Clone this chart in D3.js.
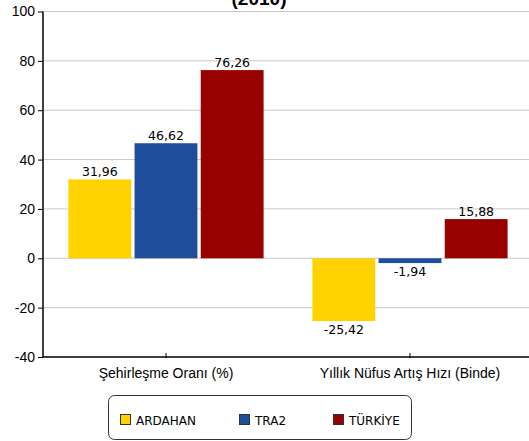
<!DOCTYPE html>
<html>
<head>
<meta charset="utf-8">
<script src="https://cdn.jsdelivr.net/npm/d3@7"></script>
<style>
  body { margin: 0; background: #fff; }
  svg { display: block; }
</style>
</head>
<body>
<div id="container"></div>
<script>
// veri
const categories = ['Şehirleşme Oranı (%)', 'Yıllık Nüfus Artış Hızı (Binde)'];
const seriesNames = ['ARDAHAN', 'TRA2', 'TÜRKİYE'];
const ardahan = [31.96, -25.42];
const tra2 = [46.62, -1.94];
const turkiye = [76.26, 15.88];
const yTicks = [-40, -20, 0, 20, 40, 60, 80, 100];
const colors = ['#FFD200', '#1D4D9B', '#990000'];

const width = 529, height = 441;
const margin = { top: 11.5, right: -3, bottom: 84, left: 44 };

const svg = d3.create('svg').attr('width', width).attr('height', height);

const rows = categories.map((c, i) => ({
  cat: c,
  values: [ardahan[i], tra2[i], turkiye[i]]
}));

const y = d3.scaleLinear()
  .domain([-40, 100])
  .range([height - margin.bottom, margin.top]);

const x0 = d3.scaleBand()
  .domain(categories)
  .range([margin.left, width - margin.right])
  .paddingInner(0.2)
  .paddingOuter(0.1);

const x1 = d3.scaleBand()
  .domain(seriesNames)
  .range([0, x0.bandwidth()])
  .paddingInner(0.05);

// başlık (kısmen görünür)
svg.append('text')
  .attr('x', 259).attr('y', 5)
  .attr('text-anchor', 'middle')
  .attr('font-family', 'Liberation Sans, Arial, sans-serif')
  .attr('font-weight', 'bold')
  .attr('font-size', 19)
  .text('(2010)');

// ızgara çizgileri
svg.append('g')
  .selectAll('line')
  .data(yTicks.filter(d => d !== -40))
  .join('line')
  .attr('x1', margin.left).attr('x2', width)
  .attr('y1', d => y(d)).attr('y2', d => y(d))
  .attr('stroke', '#c8c8c8')
  .attr('stroke-width', 1);

// çubuklar
const groups = svg.append('g')
  .selectAll('g')
  .data(rows)
  .join('g')
  .attr('transform', d => `translate(${x0(d.cat)},0)`);

groups.selectAll('rect')
  .data(d => d.values.map((v, i) => ({ name: seriesNames[i], v, i })))
  .join('rect')
  .attr('x', d => x1(d.name))
  .attr('width', x1.bandwidth())
  .attr('y', d => y(Math.max(0, d.v)))
  .attr('height', d => Math.abs(y(d.v) - y(0)))
  .attr('fill', d => colors[d.i]);

groups.selectAll('text')
  .data(d => d.values.map((v, i) => ({ name: seriesNames[i], v, i })))
  .join('text')
  .attr('x', d => x1(d.name) + x1.bandwidth() / 2)
  .attr('y', d => d.v >= 0 ? y(d.v) - 3 : y(d.v) + 13)
  .attr('text-anchor', 'middle')
  .attr('font-family', 'DejaVu Sans, sans-serif')
  .attr('font-size', 12.5)
  .attr('fill', '#000')
  .text(d => d.v.toFixed(2).replace('.', ','));

// y ekseni
const yAxis = svg.append('g')
  .attr('transform', `translate(${margin.left - 1},0)`)
  .call(d3.axisLeft(y).tickValues(yTicks).tickFormat(d => String(d)).tickSize(5).tickPadding(3));
yAxis.select('.domain').attr('stroke', '#000').attr('stroke-width', 1.5).attr('d', `M0,${y(100)}V${y(-40)}`);
yAxis.selectAll('.tick line').attr('stroke', '#000');
yAxis.selectAll('.tick text')
  .attr('font-family', 'Liberation Sans, Arial, sans-serif')
  .attr('font-size', 14)
  .attr('fill', '#000');

// x ekseni
const xAxis = svg.append('g')
  .attr('transform', `translate(0,${y(-40)})`)
  .call(d3.axisBottom(x0).tickSize(5).tickPadding(6));
xAxis.select('.domain').attr('stroke', '#000').attr('stroke-width', 1.5).attr('d', `M${margin.left - 1},0H${width}`);
xAxis.selectAll('.tick line').attr('stroke', '#000').attr('y1', -4).attr('y2', 1);
xAxis.selectAll('.tick text')
  .attr('font-family', 'Liberation Sans, Arial, sans-serif')
  .attr('font-size', 14)
  .attr('fill', '#000');

// lejant
const legend = svg.append('g');
legend.append('rect')
  .attr('x', 108.5).attr('y', 395.5)
  .attr('width', 303).attr('height', 44)
  .attr('rx', 6)
  .attr('fill', '#fff')
  .attr('stroke', '#333');

const legendX = [120, 239, 333];
const items = legend.selectAll('g.item')
  .data(seriesNames)
  .join('g')
  .attr('class', 'item')
  .attr('transform', (d, i) => `translate(${legendX[i]},414)`);
items.append('rect')
  .attr('x', 0.5).attr('y', 0.5)
  .attr('width', 10).attr('height', 10)
  .attr('fill', (d, i) => colors[i])
  .attr('stroke', '#333');
items.append('text')
  .attr('x', 16).attr('y', 10.5)
  .attr('font-family', 'DejaVu Sans, sans-serif')
  .attr('font-size', 12)
  .attr('fill', '#000')
  .text(d => d);

d3.select('#container').append(() => svg.node());
</script>
</body>
</html>
